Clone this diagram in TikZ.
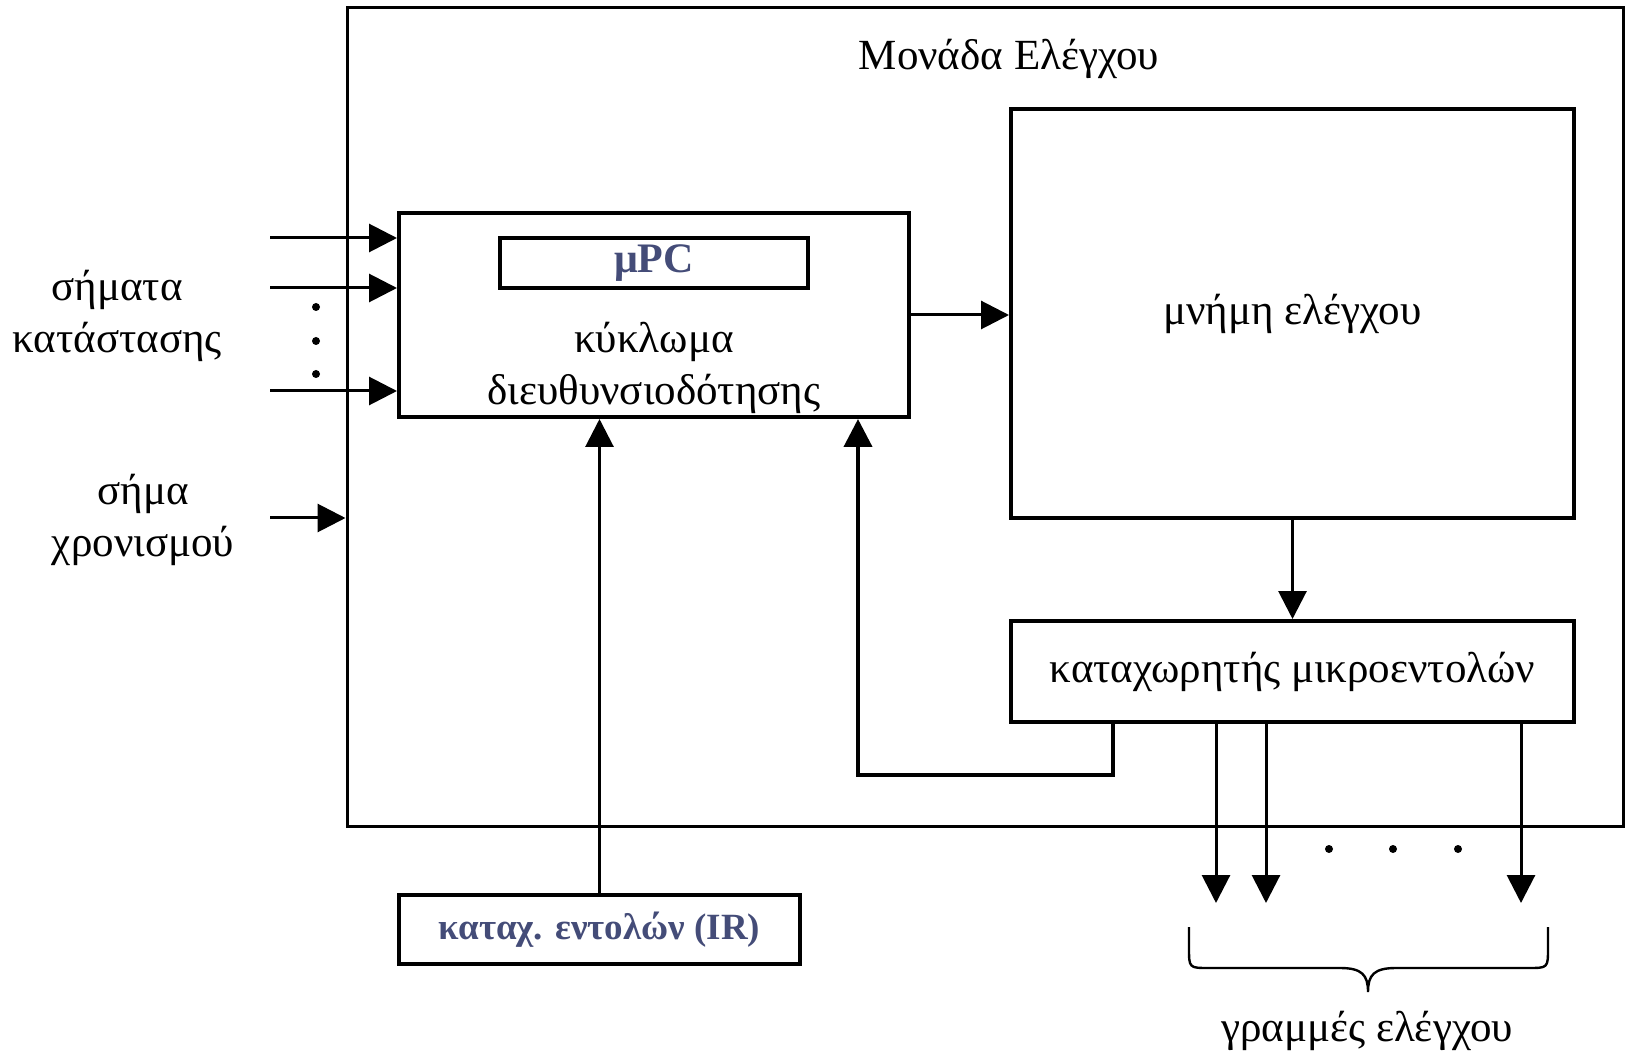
\documentclass[tikz,border=0pt]{standalone}
\usepackage{fontspec}
\setmainfont{Liberation Serif}
\usetikzlibrary{arrows.meta}
\usetikzlibrary{positioning}
\definecolor{irblue}{RGB}{68,76,120}

\begin{document}
\begin{tikzpicture}[x=0.5pt,y=-0.5pt,-{Triangle[length=14pt,width=14pt]},line width=1.5pt,
  font=\fontsize{21.5}{26}\selectfont,
  main node/.style={draw,rectangle,line width=2pt,inner sep=0pt,align=center},
  blue node/.style={font=\fontsize{21}{26}\selectfont\bfseries,text=irblue}]

  \useasboundingbox (0,0) rectangle (1628,1053);

  \node[draw,rectangle,line width=1.5pt,minimum width=638pt,minimum height=409pt] (0) at (985,417) {};
  \node[] (0a) at (1009,59) {Μονάδα Ελέγχου};

  \node[main node,minimum width=255pt,minimum height=102pt] (1) at (654,315) {};
  \node[main node,blue node,minimum width=154pt,minimum height=25pt] (1a) at (654,263) {μPC};
  \node[align=center] (1b) at (654,368) {κύκλωμα\\διευθυνσιοδότησης};
  \node[main node,minimum width=281.5pt,minimum height=204.5pt] (2) at (1292.5,313.5) {μνήμη ελέγχου};
  \node[main node,minimum width=281.5pt,minimum height=50.5pt] (3) at (1292.5,671.5) {καταχωρητής μικροεντολών};
  \node[main node,blue node,font=\fontsize{18.5}{22}\selectfont\bfseries,minimum width=200.5pt,minimum height=34.5pt] (4) at (599.5,929.5) {καταχ. εντολών (IR)};

  \node[align=center] (5) at (117,316) {σήματα\\κατάστασης};
  \node[align=center] (6) at (143,520) {σήμα\\χρονισμού};
  \node[] (7) at (1367,1031) {γραμμές ελέγχου};

  \foreach \y/\n in {238/a,288/b,391/c} {
    \coordinate (5\n) at (270,\y);
    \draw (5\n) -- (5\n -| 1.west);
  }
  \foreach \y in {307,341,374} \fill (316,\y) circle (2pt);
  \coordinate (6a) at (270,518);
  \draw (6a) -- (6a -| 0.west);

  \draw (1.east) -- (1.east -| 2.west);
  \draw (2.south) -- (3.north);
  \draw (4.north) -- (4.north |- 1.south);
  \coordinate (3a) at (1113,775);
  \coordinate (3b) at (858,775);
  \draw[line width=2pt] (3a |- 3.south) -- (3a) -- (3b) -- (3b |- 1.south);

  \foreach \x in {1216,1266,1521} {
    \coordinate (7\x) at (\x,903);
    \draw (7\x |- 3.south) -- (7\x);
  }
  \foreach \x in {1329,1393,1458} \fill (\x,849) circle (2pt);

  \draw[-,line width=1.2pt] (1189,927) -- (1189,948) .. controls (1189,968) .. (1209,968) -- (1340,968)
    .. controls (1362,968) and (1368,975) .. (1368,992) .. controls (1368,975) and (1374,968) .. (1396,968)
    -- (1528,968) .. controls (1548,968) .. (1548,948) -- (1548,927);
\end{tikzpicture}
\end{document}
